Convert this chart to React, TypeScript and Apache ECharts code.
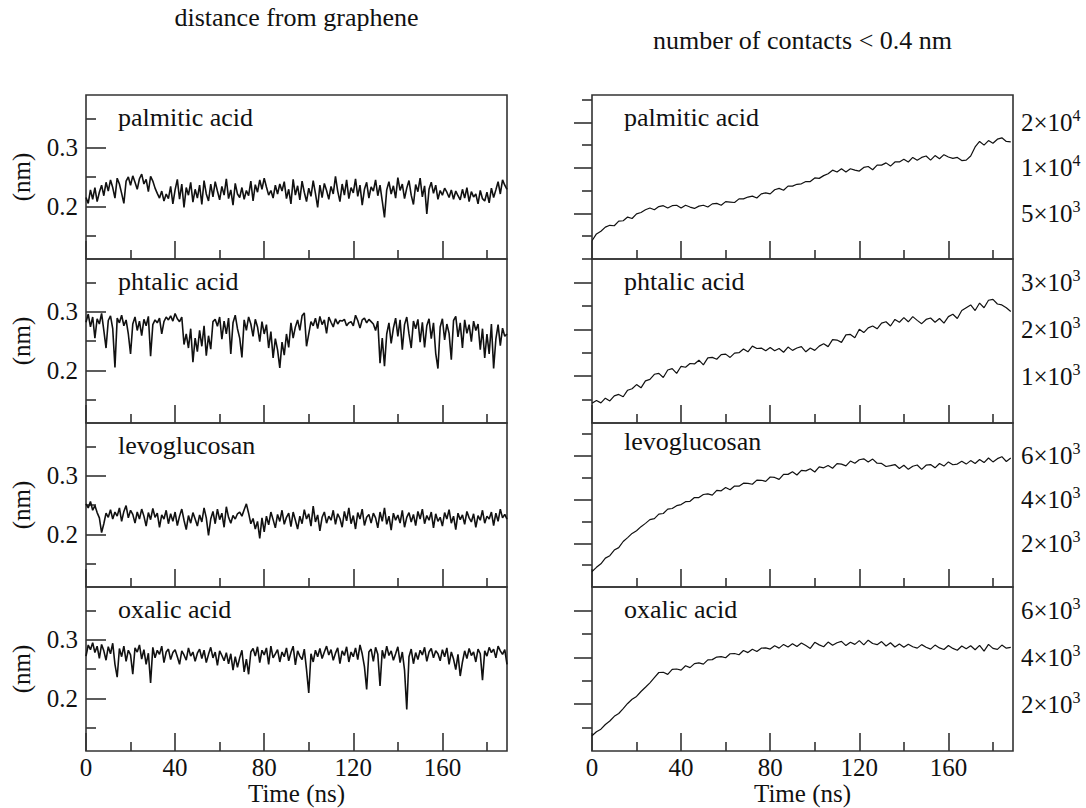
import React, { useEffect, useRef } from "react";
import * as echarts from "echarts";

// ---------- DATA ----------
const panelNames = ["palmitic acid", "phtalic acid", "levoglucosan", "oxalic acid"];
const leftTitle = "distance from graphene";
const rightTitle = "number of contacts < 0.4 nm";
const xName = "Time (ns)";
const yNameLeft = "(nm)";

// time steps (ns)
const distStep = 1;
const contStep = 2;

// x ticks
const xMajorTicks = [0, 40, 80, 120, 160];
const xMinorTicks = [20, 60, 100, 140, 180];
const xMin = 0;
const xMax = 189;

// left y axis (nm)
const distMin = 0.11;
const distMax = 0.39;
const distMajorTicks = [0.2, 0.3];
const distMinorTicks = [0.15, 0.25, 0.35];

// right y axes (contacts)
const contMax = [18000, 3500, 7500, 7000];
const contMajorTicks = [
  [5000, 10000, 15000],
  [1000, 2000, 3000],
  [2000, 4000, 6000],
  [2000, 4000, 6000],
];
const contMinorTicks = [
  [2500, 7500, 12500, 17500],
  [500, 1500, 2500, 3500],
  [1000, 3000, 5000, 7000],
  [1000, 3000, 5000],
];

const distPalmitic = [
  0.215, 0.205, 0.228, 0.212, 0.232, 0.208, 0.224, 0.236, 0.218, 0.241,
  0.226, 0.245, 0.232, 0.214, 0.248, 0.238, 0.222, 0.205, 0.243, 0.250,
  0.236, 0.252, 0.241, 0.229, 0.247, 0.255, 0.238, 0.246, 0.225, 0.251,
  0.243, 0.231, 0.222, 0.214, 0.226, 0.209, 0.221, 0.213, 0.234, 0.204,
  0.228, 0.246, 0.212, 0.238, 0.198, 0.232, 0.219, 0.241, 0.207, 0.229,
  0.214, 0.236, 0.203, 0.244, 0.221, 0.209, 0.238, 0.216, 0.242, 0.226,
  0.211, 0.234, 0.219, 0.247, 0.213, 0.228, 0.202, 0.239, 0.221, 0.215,
  0.232, 0.212, 0.227, 0.218, 0.243, 0.209, 0.237, 0.224, 0.245, 0.229,
  0.248, 0.233, 0.219, 0.227, 0.214, 0.236, 0.221, 0.238, 0.226, 0.242,
  0.213, 0.229, 0.204, 0.246, 0.219, 0.235, 0.211, 0.243, 0.224, 0.208,
  0.231, 0.217, 0.244, 0.222, 0.198, 0.236, 0.215, 0.239, 0.227, 0.212,
  0.234, 0.221, 0.251, 0.226, 0.208, 0.238, 0.219, 0.245, 0.213, 0.232,
  0.223, 0.247, 0.217, 0.236, 0.202, 0.229, 0.241, 0.214, 0.233, 0.226,
  0.245, 0.218, 0.236, 0.209, 0.181, 0.228, 0.242, 0.221, 0.235, 0.214,
  0.249, 0.227, 0.238, 0.213, 0.231, 0.244, 0.219, 0.203, 0.237, 0.225,
  0.248, 0.216, 0.235, 0.187, 0.229, 0.241, 0.222, 0.236, 0.212, 0.227,
  0.219, 0.231, 0.224, 0.215, 0.228, 0.212, 0.226, 0.218, 0.211, 0.229,
  0.214, 0.232, 0.208, 0.225, 0.216, 0.221, 0.204, 0.227, 0.213, 0.209,
  0.224, 0.206, 0.231, 0.215, 0.228, 0.242, 0.221, 0.245, 0.236, 0.229,
];

const distPhtalic = [
  0.282, 0.296, 0.274, 0.291, 0.255, 0.288, 0.279, 0.297, 0.268, 0.238,
  0.285, 0.293, 0.271, 0.205, 0.289, 0.281, 0.294, 0.276, 0.286, 0.262,
  0.228, 0.279, 0.291, 0.268, 0.284, 0.259, 0.287, 0.276, 0.292, 0.224,
  0.278, 0.286, 0.281, 0.289, 0.262, 0.283, 0.291, 0.286, 0.293, 0.284,
  0.297, 0.288, 0.283, 0.291, 0.244, 0.262, 0.238, 0.271, 0.214, 0.255,
  0.232, 0.268, 0.241, 0.276, 0.225, 0.259, 0.236, 0.283, 0.287, 0.275,
  0.291, 0.253, 0.284, 0.262, 0.289, 0.228, 0.281, 0.294, 0.271, 0.255,
  0.222, 0.286, 0.268, 0.291, 0.279, 0.258, 0.287, 0.274, 0.249, 0.283,
  0.262, 0.278, 0.238, 0.266, 0.221, 0.254, 0.235, 0.204, 0.248, 0.226,
  0.262, 0.239, 0.281, 0.255, 0.274, 0.286, 0.268, 0.293, 0.298, 0.241,
  0.262, 0.283, 0.276, 0.289, 0.271, 0.292, 0.278, 0.286, 0.263, 0.291,
  0.282, 0.274, 0.288, 0.279, 0.285, 0.284, 0.287, 0.276, 0.281, 0.283,
  0.276, 0.294, 0.285, 0.272, 0.286, 0.289, 0.281, 0.287, 0.283, 0.279,
  0.268, 0.284, 0.212, 0.255, 0.207, 0.262, 0.281, 0.246, 0.272, 0.289,
  0.258, 0.286, 0.235, 0.278, 0.291, 0.262, 0.238, 0.284, 0.271, 0.287,
  0.248, 0.282, 0.239, 0.276, 0.288, 0.254, 0.281, 0.229, 0.203, 0.274,
  0.288, 0.252, 0.279, 0.263, 0.218, 0.285, 0.292, 0.257, 0.281, 0.238,
  0.286, 0.263, 0.278, 0.249, 0.284, 0.268, 0.279, 0.235, 0.271, 0.221,
  0.262, 0.228, 0.279, 0.203, 0.253, 0.278, 0.242, 0.272, 0.258, 0.262,
];

const distLevoglucosan = [
  0.252, 0.245, 0.256, 0.241, 0.249, 0.237, 0.228, 0.203, 0.218, 0.236,
  0.229, 0.242, 0.226, 0.238, 0.231, 0.245, 0.222, 0.239, 0.249, 0.228,
  0.241, 0.234, 0.219, 0.238, 0.226, 0.243, 0.231, 0.214, 0.237, 0.225,
  0.244, 0.229, 0.236, 0.212, 0.233, 0.226, 0.241, 0.218, 0.235, 0.222,
  0.238, 0.215, 0.231, 0.243, 0.224, 0.208, 0.232, 0.219, 0.237, 0.226,
  0.214, 0.233, 0.221, 0.245, 0.228, 0.198, 0.226, 0.239, 0.218, 0.243,
  0.225, 0.236, 0.212, 0.247, 0.229, 0.219, 0.232, 0.226, 0.235, 0.238,
  0.231, 0.242, 0.252, 0.236, 0.218, 0.227, 0.209, 0.222, 0.193, 0.228,
  0.204, 0.231, 0.216, 0.238, 0.225, 0.211, 0.234, 0.222, 0.241, 0.217,
  0.229, 0.236, 0.213, 0.238, 0.224, 0.209, 0.231, 0.218, 0.242, 0.226,
  0.235, 0.214, 0.248, 0.221, 0.233, 0.206, 0.229, 0.238, 0.219, 0.231,
  0.224, 0.241, 0.217, 0.235, 0.227, 0.212, 0.239, 0.223, 0.245, 0.218,
  0.232, 0.209, 0.237, 0.226, 0.243, 0.215, 0.229, 0.234, 0.219, 0.236,
  0.228, 0.211, 0.238, 0.222, 0.245, 0.217, 0.231, 0.207, 0.236, 0.224,
  0.233, 0.219, 0.241, 0.212, 0.229, 0.237, 0.221, 0.234, 0.215, 0.239,
  0.226, 0.243, 0.218, 0.232, 0.224, 0.238, 0.211, 0.235, 0.222, 0.229,
  0.214, 0.237, 0.226, 0.242, 0.219, 0.231, 0.208, 0.236, 0.225, 0.233,
  0.217, 0.239, 0.228, 0.221, 0.235, 0.212, 0.232, 0.224, 0.241, 0.219,
  0.231, 0.226, 0.238, 0.215, 0.236, 0.222, 0.243, 0.228, 0.234, 0.226,
];

const distOxalic = [
  0.272, 0.291, 0.283, 0.295, 0.278, 0.289, 0.268, 0.292, 0.281, 0.265,
  0.288, 0.276, 0.294, 0.258, 0.236, 0.285, 0.271, 0.289, 0.263, 0.282,
  0.274, 0.241, 0.286, 0.279, 0.291, 0.267, 0.283, 0.258, 0.277, 0.226,
  0.287, 0.269, 0.282, 0.275, 0.289, 0.261, 0.279, 0.284, 0.266, 0.278,
  0.283, 0.271, 0.258, 0.281, 0.274, 0.265, 0.286, 0.272, 0.279, 0.263,
  0.277, 0.284, 0.268, 0.282, 0.261, 0.275, 0.287, 0.269, 0.279, 0.256,
  0.281, 0.273, 0.264, 0.278, 0.259, 0.276, 0.248, 0.271, 0.253, 0.269,
  0.282, 0.245, 0.267, 0.241, 0.279, 0.285, 0.272, 0.288, 0.261, 0.282,
  0.274, 0.286, 0.258, 0.289, 0.269, 0.276, 0.283, 0.262, 0.279, 0.271,
  0.286, 0.264, 0.278, 0.289, 0.257, 0.281, 0.272, 0.266, 0.284, 0.249,
  0.209, 0.276, 0.262, 0.282, 0.271, 0.285, 0.268, 0.279, 0.289, 0.274,
  0.283, 0.265, 0.277, 0.286, 0.259, 0.281, 0.273, 0.288, 0.262, 0.279,
  0.271, 0.286, 0.266, 0.291, 0.276, 0.254, 0.215, 0.279, 0.284, 0.263,
  0.287, 0.275, 0.221, 0.282, 0.268, 0.289, 0.273, 0.281, 0.265, 0.276,
  0.288, 0.261, 0.279, 0.248, 0.181, 0.271, 0.284, 0.259, 0.278, 0.266,
  0.282, 0.274, 0.287, 0.263, 0.279, 0.285, 0.269, 0.281, 0.276, 0.264,
  0.283, 0.271, 0.286, 0.258, 0.279, 0.267, 0.249, 0.275, 0.238, 0.262,
  0.281, 0.268, 0.285, 0.273, 0.279, 0.262, 0.284, 0.276, 0.231, 0.281,
  0.272, 0.287, 0.278, 0.284, 0.269, 0.289, 0.281, 0.275, 0.283, 0.258,
];

const contPalmitic = [
  2000, 2750, 3050, 3500, 3700, 3650, 4150, 4200, 4600, 4450,
  4950, 5100, 5400, 5600, 5400, 5750, 5850, 5600, 5850, 5900,
  5600, 5900, 5700, 5550, 5800, 5900, 5700, 6050, 6100, 5900,
  6300, 6250, 6200, 6600, 6600, 6800, 6900, 6700, 7150, 7250,
  7150, 7600, 7750, 7550, 8000, 8000, 8200, 8250, 8500, 8500,
  8900, 8850, 9150, 9350, 9750, 9550, 9900, 9550, 9900, 9750,
  9650, 10050, 10150, 9800, 10300, 10300, 10550, 10200, 10650, 10650,
  10950, 10650, 11150, 10850, 11150, 11300, 10850, 11350, 11000, 11450,
  11200, 11050, 11150, 10800, 10850, 11300, 12300, 12900, 12500, 13000,
  12700, 13150, 13300, 12900, 12850,
];

const contPhtalic = [
  420, 480, 430, 530, 470, 580, 610, 560, 700, 730,
  820, 750, 900, 930, 1040, 1060, 970, 1130, 1160, 1060,
  1210, 1190, 1270, 1260, 1340, 1240, 1390, 1400, 1360, 1460,
  1470, 1400, 1490, 1500, 1580, 1520, 1640, 1590, 1600, 1540,
  1610, 1540, 1590, 1510, 1620, 1550, 1600, 1630, 1520, 1600,
  1550, 1640, 1690, 1630, 1780, 1770, 1720, 1880, 1890, 1820,
  2000, 1930, 2030, 2070, 2010, 2130, 2160, 2070, 2210, 2150,
  2250, 2160, 2270, 2190, 2120, 2210, 2240, 2150, 2230, 2130,
  2270, 2320, 2230, 2400, 2460, 2520, 2400, 2560, 2460, 2620,
  2640, 2540, 2520, 2460, 2380,
];

const contLevoglucosan = [
  700, 900, 1060, 1320, 1430, 1690, 1800, 2080, 2260, 2450,
  2570, 2760, 2910, 3080, 3130, 3330, 3360, 3560, 3590, 3720,
  3770, 3900, 3920, 4090, 4090, 4230, 4260, 4200, 4420, 4400,
  4550, 4450, 4620, 4610, 4750, 4740, 4700, 4890, 4880, 4830,
  5030, 5010, 4920, 5150, 5150, 5270, 5120, 5330, 5310, 5410,
  5260, 5490, 5450, 5560, 5430, 5640, 5620, 5540, 5760, 5660,
  5820, 5860, 5720, 5850, 5660, 5650, 5510, 5550, 5600, 5420,
  5570, 5380, 5520, 5580, 5380, 5570, 5600, 5450, 5650, 5530,
  5720, 5590, 5620, 5750, 5620, 5780, 5650, 5830, 5690, 5900,
  5720, 5870, 5960, 5740, 5900,
];

const contOxalic = [
  650, 820, 930, 1130, 1280, 1480, 1600, 1810, 2030, 2210,
  2330, 2540, 2720, 2910, 3130, 3350, 3360, 3270, 3480, 3500,
  3450, 3640, 3560, 3730, 3760, 3710, 3890, 3900, 4010, 4030,
  3980, 4150, 4160, 4110, 4290, 4200, 4340, 4250, 4390, 4400,
  4350, 4490, 4390, 4550, 4440, 4580, 4460, 4610, 4500, 4380,
  4640, 4530, 4450, 4650, 4510, 4620, 4680, 4500, 4640, 4550,
  4710, 4530, 4730, 4590, 4540, 4670, 4480, 4620, 4440, 4570,
  4430, 4560, 4450, 4390, 4540, 4430, 4350, 4520, 4400, 4330,
  4500, 4380, 4300, 4480, 4360, 4490, 4320, 4510, 4260, 4550,
  4380, 4340, 4520, 4390, 4420,
];

const distSeries = [distPalmitic, distPhtalic, distLevoglucosan, distOxalic];
const contSeries = [contPalmitic, contPhtalic, contLevoglucosan, contOxalic];

// ---------- LAYOUT ----------
const FONT = "Liberation Serif";
const INK = "#111";
const FRAME = "#333";
const ROW_TOPS = [95, 259, 423, 587];
const ROW_H = 164;
const COL_LEFTS = [86, 592];
const COL_W = 421;
const FS = 25;
const FS_TXT = 26;

const txt = { fontSize: FS, fontFamily: FONT, color: INK };

function powerLabel(v: number): string {
  const e = Math.floor(Math.log10(v) + 1e-9);
  const m = Math.round(v / Math.pow(10, e));
  return `{m|${m}\u00d710}{e|${e}}`;
}

function buildOption() {
  const grid: any[] = [];
  const xAxis: any[] = [];
  const yAxis: any[] = [];
  const series: any[] = [];
  const graphic: any[] = [];

  for (let c = 0; c < 2; c++) {
    for (let r = 0; r < 4; r++) {
      const gi = grid.length;
      grid.push({
        left: COL_LEFTS[c],
        top: ROW_TOPS[r],
        width: COL_W,
        height: ROW_H,
        show: true,
        borderColor: FRAME,
        borderWidth: 1.6,
        backgroundColor: "transparent",
      });
      const isBottom = r === 3;
      const tickStyle = { color: FRAME, width: 1.6 };
      xAxis.push({
        gridIndex: gi,
        type: "value",
        min: xMin,
        max: xMax,
        position: "bottom",
        axisLine: { show: false },
        splitLine: { show: false },
        axisTick: { show: true, inside: true, length: 18, customValues: xMajorTicks, lineStyle: tickStyle },
        axisLabel: { show: isBottom, customValues: xMajorTicks, ...txt, margin: 4 },
        name: isBottom ? xName : "",
        nameLocation: "middle",
        nameGap: 30,
        nameTextStyle: { ...txt },
      });
      xAxis.push({
        gridIndex: gi,
        type: "value",
        min: xMin,
        max: xMax,
        position: "bottom",
        axisLine: { show: false },
        splitLine: { show: false },
        axisTick: { show: true, inside: true, length: 9, customValues: xMinorTicks, lineStyle: tickStyle },
        axisLabel: { show: false },
      });

      if (c === 0) {
        yAxis.push({
          gridIndex: gi,
          type: "value",
          min: distMin,
          max: distMax,
          position: "left",
          axisLine: { show: false },
          splitLine: { show: false },
          axisTick: { show: true, inside: true, length: 20, customValues: distMajorTicks, lineStyle: tickStyle },
          axisLabel: {
            customValues: distMajorTicks,
            formatter: (v: number) => v.toFixed(1),
            ...txt,
            margin: 8,
          },
          name: yNameLeft,
          nameLocation: "middle",
          nameGap: 52,
          nameTextStyle: { ...txt },
        });
        yAxis.push({
          gridIndex: gi,
          type: "value",
          min: distMin,
          max: distMax,
          position: "left",
          axisLine: { show: false },
          splitLine: { show: false },
          axisTick: { show: true, inside: true, length: 10, customValues: distMinorTicks, lineStyle: tickStyle },
          axisLabel: { show: false },
        });
        series.push({
          type: "line",
          xAxisIndex: 2 * gi,
          yAxisIndex: 2 * gi,
          data: distSeries[r].map((v, i) => [i * distStep, v]),
          showSymbol: false,
          symbol: "none",
          lineStyle: { color: INK, width: 1.6 },
          silent: true,
        });
      } else {
        yAxis.push({
          gridIndex: gi,
          type: "value",
          min: 0,
          max: contMax[r],
          position: "right",
          axisLine: { show: false },
          splitLine: { show: false },
          axisTick: { show: true, inside: true, length: 18, customValues: contMajorTicks[r], lineStyle: tickStyle },
          axisLabel: {
            customValues: contMajorTicks[r],
            formatter: powerLabel,
            margin: 8,
            ...txt,
            rich: {
              m: { fontSize: FS, fontFamily: FONT, color: INK, lineHeight: 30 },
              e: { fontSize: 16, fontFamily: FONT, color: INK, verticalAlign: "top", lineHeight: 16 },
            },
          },
        });
        yAxis.push({
          gridIndex: gi,
          type: "value",
          min: 0,
          max: contMax[r],
          position: "right",
          axisLine: { show: false },
          splitLine: { show: false },
          axisTick: { show: true, inside: true, length: 10, customValues: contMinorTicks[r], lineStyle: tickStyle },
          axisLabel: { show: false },
        });
        series.push({
          type: "line",
          xAxisIndex: 2 * gi,
          yAxisIndex: 2 * gi,
          data: contSeries[r].map((v, i) => [i * contStep, v]),
          showSymbol: false,
          symbol: "none",
          lineStyle: { color: INK, width: 1.2 },
          silent: true,
        });
      }

      graphic.push({
        type: "text",
        x: COL_LEFTS[c] + 32,
        y: ROW_TOPS[r] + (c === 1 && r === 2 ? 18 : 22),
        style: {
          text: panelNames[r],
          font: `${FS_TXT}px ${FONT}`,
          fill: INK,
          align: "left",
          verticalAlign: "middle",
        },
      });
    }
  }

  graphic.push({
    type: "text",
    x: COL_LEFTS[0] + COL_W / 2,
    y: 17,
    style: { text: leftTitle, font: `${FS_TXT}px ${FONT}`, fill: INK, align: "center", verticalAlign: "middle" },
  });
  graphic.push({
    type: "text",
    x: COL_LEFTS[1] + COL_W / 2,
    y: 40,
    style: { text: rightTitle, font: `${FS_TXT}px ${FONT}`, fill: INK, align: "center", verticalAlign: "middle" },
  });

  return {
    animation: false,
    backgroundColor: "#fff",
    textStyle: { fontFamily: FONT },
    grid,
    xAxis,
    yAxis,
    series,
    graphic,
  };
}

export default function App() {
  const ref = useRef<HTMLDivElement>(null);
  useEffect(() => {
    document.body.style.margin = "0";
    if (!ref.current) return;
    const chart = echarts.init(ref.current, undefined, { renderer: "svg" });
    chart.setOption(buildOption() as any);
    return () => chart.dispose();
  }, []);
  return <div ref={ref} style={{ width: 1086, height: 808 }} />;
}
